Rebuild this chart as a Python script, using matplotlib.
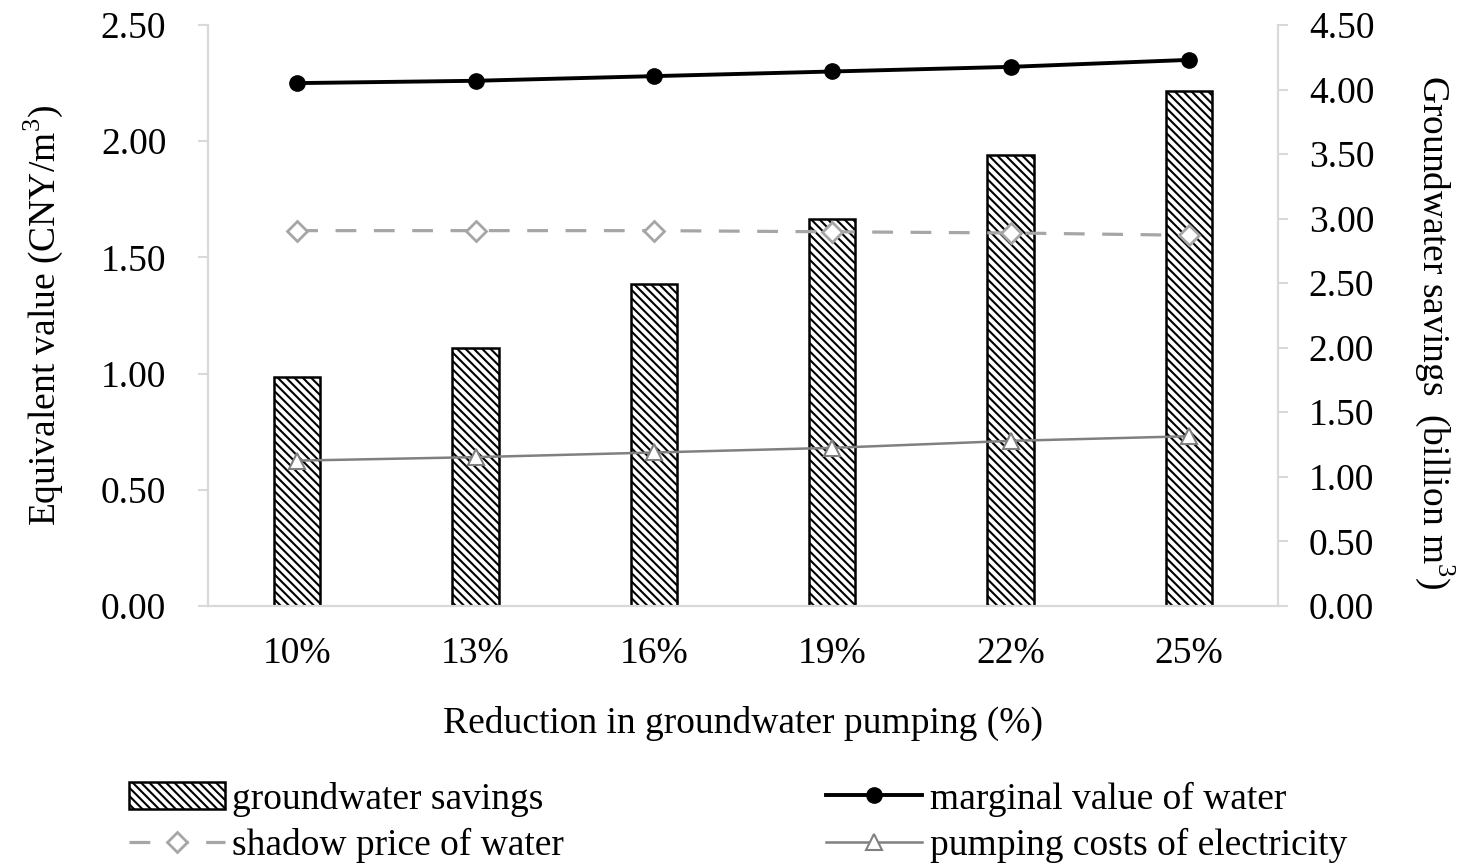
import matplotlib
matplotlib.use("Agg")
import matplotlib.pyplot as plt
import numpy as np

# data
categories = ["10%", "13%", "16%", "19%", "22%", "25%"]
groundwater_savings = [1.77, 2.00, 2.49, 3.00, 3.49, 3.99]   # billion m3, right axis
marginal_value = [2.25, 2.26, 2.28, 2.30, 2.32, 2.35]        # CNY/m3
shadow_price = [1.615, 1.615, 1.615, 1.61, 1.605, 1.595]     # CNY/m3
pumping_costs = [0.625, 0.64, 0.66, 0.68, 0.71, 0.73]        # CNY/m3

left_ticks = [0.0, 0.5, 1.0, 1.5, 2.0, 2.5]
right_ticks = [0.0, 0.5, 1.0, 1.5, 2.0, 2.5, 3.0, 3.5, 4.0, 4.5]

plt.rcParams['font.family'] = ['Liberation Serif', 'DejaVu Serif']
plt.rcParams['mathtext.fontset'] = 'custom'
plt.rcParams['mathtext.rm'] = 'Liberation Serif'
plt.rcParams['hatch.linewidth'] = 1.5
plt.rcParams['hatch.color'] = 'black'

spine_col = '#d9d9d9'
fs = 27

fig = plt.figure(figsize=(14.65, 8.63), dpi=100)
ax = fig.add_axes([0.142, 0.298, 0.7305, 0.673])
ax2 = ax.twinx()

x = np.arange(len(categories))

# bars on the secondary axis, drawn behind the lines
ax2.bar(x, groundwater_savings, width=0.26, color='white', edgecolor='black',
        linewidth=1.8, hatch='\\\\\\\\', label='groundwater savings', zorder=1)
ax2.set_ylim(0, 4.5)
ax2.set_yticks(right_ticks)
ax2.set_yticklabels(['%.2f' % v for v in right_ticks], fontsize=fs)

# primary axis on top so the lines sit above the bars
ax.set_zorder(ax2.get_zorder() + 1)
ax.patch.set_visible(False)

ax.plot(x, marginal_value, color='black', lw=2.8, marker='o', ms=11,
        label='marginal value of water')
ax.plot(x, shadow_price, color='#a6a6a6', lw=2.3, ls=(0, (6.5, 5.5)), marker='D',
        ms=10, mfc='white', mec='#a6a6a6', mew=2, label='shadow price of water')
ax.plot(x, pumping_costs, color='#808080', lw=1.8, marker='^', ms=11,
        mfc='white', mec='#808080', mew=1.5, label='pumping costs of electricity')

ax.set_ylim(0, 2.5)
ax.set_xlim(-0.5, len(categories) - 0.5)
ax.set_yticks(left_ticks)
ax.set_yticklabels(['%.2f' % v for v in left_ticks], fontsize=fs)
ax.set_xticks(x)
ax.set_xticklabels(categories, fontsize=fs)

for a in (ax, ax2):
    for s in a.spines.values():
        s.set_color(spine_col)
        s.set_linewidth(1.5)
    a.spines['top'].set_visible(False)
    a.tick_params(axis='y', color=spine_col, width=1.5, length=7)
ax.tick_params(axis='y', pad=23)
ax2.tick_params(axis='y', pad=15)
ax.tick_params(axis='x', length=0, pad=22)

ax.set_ylabel('Equivalent value (CNY/m$^3$)', fontsize=fs, labelpad=26)
ax2.set_ylabel('Groundwater savings  (billion m$^3$)', fontsize=fs,
               rotation=270, ha='center', va='center')
ax2.yaxis.set_label_coords(1.146, 0.47)
ax.set_xlabel('Reduction in groundwater pumping (%)', fontsize=fs, labelpad=25)

# legend: two columns below the chart
h1, l1 = ax.get_legend_handles_labels()
h2, l2 = ax2.get_legend_handles_labels()
handles = [h2[0], h1[1], h1[0], h1[2]]
labels = [l2[0], l1[1], l1[0], l1[2]]
fig.legend(handles, labels, loc='lower left', bbox_to_anchor=(0.065, -0.039),
           ncol=2, frameon=False, fontsize=fs, handlelength=2.55,
           handletextpad=0.2, columnspacing=7.0, labelspacing=0.3)

fig.savefig('out.png', dpi=100)
